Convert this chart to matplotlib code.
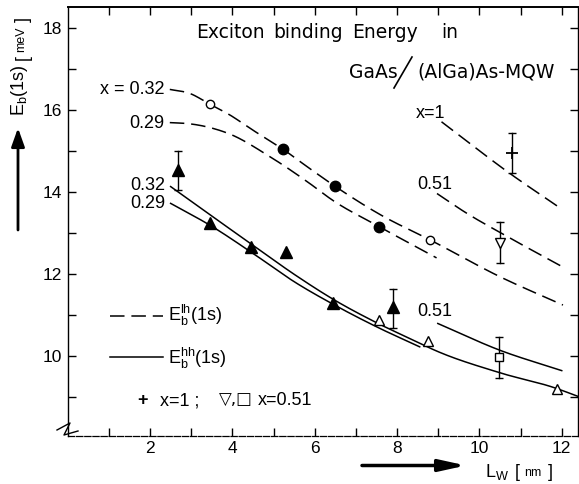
import numpy as np
import matplotlib
matplotlib.use('Agg')
import matplotlib.pyplot as plt
from matplotlib.lines import Line2D

W, H = 579, 484

# ---------------- data ----------------
# light-hole binding energy curves (dashed)
lh032_x = [2.48, 2.97, 3.45, 3.95, 4.43, 5.23, 5.85, 6.49, 7.6, 8.8, 10.5, 12.03]
lh032_y = [16.51, 16.41, 16.15, 15.88, 15.56, 15.05, 14.6, 14.15, 13.45, 12.84, 11.94, 11.25]
lh029_x = [2.48, 2.97, 3.45, 3.94, 4.91, 5.9, 6.4, 7.57, 8.96]
lh029_y = [15.70, 15.67, 15.58, 15.42, 14.87, 14.2, 13.83, 13.16, 12.4]
lh051_x = [8.97, 9.69, 10.5, 12.04]
lh051_y = [13.97, 13.49, 13.02, 12.17]
lh1_x = [9.08, 10.74, 12.0]
lh1_y = [15.72, 14.46, 13.59]
# heavy-hole binding energy curves (solid)
hh032_x = [2.5, 3.5, 4.5, 5.5, 6.5, 7.5, 8.55, 8.8, 10.49, 11.86, 12.4]
hh032_y = [14.14, 13.42, 12.71, 12.0, 11.36, 10.82, 10.32, 10.2, 9.6, 9.22, 9.02]
hh029_x = [2.5, 3.5, 4.5, 5.5, 6.5, 7.5, 8.55]
hh029_y = [13.73, 13.17, 12.51, 11.82, 11.24, 10.72, 10.23]
hh051_x = [8.99, 10.49, 12.0]
hh051_y = [10.8, 10.15, 9.65]

# experimental points
fcirc_x = [5.23, 6.49, 7.57]
fcirc_y = [15.05, 14.15, 13.16]
ocirc_x = [3.45, 8.8]
ocirc_y = [16.15, 12.84]
ftri_x = [2.68, 3.46, 4.46, 5.3, 6.45, 7.91]
ftri_y = [14.54, 13.26, 12.67, 12.55, 11.31, 11.21]
otri_x = [7.56, 8.76, 11.88]
otri_y = [10.89, 10.37, 9.19]
dtri_x = [10.5]
dtri_y = [12.77]
sq_x = [10.48]
sq_y = [9.99]
plus_x = [10.78]
plus_y = [14.95]

# error bars: x, lower, upper
err_x = [2.68, 7.91, 10.5, 10.48, 10.78]
err_lo = [14.06, 10.70, 12.28, 9.46, 14.46]
err_hi = [15.01, 11.63, 13.28, 10.48, 15.45]

xticks = [2, 4, 6, 8, 10, 12]
yticks = [10, 12, 14, 16, 18]


def smooth(x, y, n=300):
    x = np.asarray(x, float)
    y = np.asarray(y, float)
    h = np.diff(x)
    d = np.diff(y) / h
    m = np.zeros_like(y)
    m[0] = d[0]
    m[-1] = d[-1]
    if len(x) > 2:
        m[1:-1] = (d[:-1] * h[1:] + d[1:] * h[:-1]) / (h[:-1] + h[1:])
    xs = np.linspace(x[0], x[-1], n)
    idx = np.clip(np.searchsorted(x, xs) - 1, 0, len(h) - 1)
    t = (xs - x[idx]) / h[idx]
    h00 = 2 * t**3 - 3 * t**2 + 1
    h10 = t**3 - 2 * t**2 + t
    h01 = -2 * t**3 + 3 * t**2
    h11 = t**3 - t**2
    ys = h00 * y[idx] + h10 * h[idx] * m[idx] + h01 * y[idx + 1] + h11 * h[idx] * m[idx + 1]
    return xs, ys


plt.rcParams['font.family'] = ['Liberation Sans', 'DejaVu Sans']
plt.rcParams['mathtext.fontset'] = 'custom'
plt.rcParams['mathtext.rm'] = 'Liberation Sans'

fig = plt.figure(figsize=(W / 100, H / 100), dpi=100)
ax = fig.add_axes([67.7 / W, 1 - 435.8 / H, 510.5 / W, (435.8 - 6.6) / H])
ax.set_xlim(0, 12.4)
ax.set_ylim(8.06, 18.53)

dash = dict(color='k', lw=1.1, dashes=(9.5, 4.5))
solid = dict(color='k', lw=1.1)
for xx, yy in [(lh032_x, lh032_y), (lh029_x, lh029_y), (lh051_x, lh051_y), (lh1_x, lh1_y)]:
    ax.plot(*smooth(xx, yy), **dash)
for xx, yy in [(hh032_x, hh032_y), (hh029_x, hh029_y), (hh051_x, hh051_y)]:
    ax.plot(*smooth(xx, yy), **solid)

# error bars
for xe, lo, hi in zip(err_x, err_lo, err_hi):
    ax.plot([xe, xe], [lo, hi], color='k', lw=1.0, zorder=3)
    ax.plot([xe], [hi], marker='_', ms=6, mew=1.0, color='k', zorder=3)
    ax.plot([xe], [lo], marker='_', ms=6, mew=1.0, color='k', zorder=3)

ax.plot(fcirc_x, fcirc_y, 'o', ms=7.5, color='k', zorder=4)
ax.plot(ocirc_x, ocirc_y, 'o', ms=6, mfc='white', mec='k', mew=1.0, zorder=4)
ax.plot(ftri_x, ftri_y, '^', ms=8.5, color='k', zorder=4)
ax.plot(otri_x, otri_y, '^', ms=7.5, mfc='white', mec='k', mew=1.0, zorder=4)
ax.plot(dtri_x, dtri_y, 'v', ms=7.5, mfc='white', mec='k', mew=1.0, zorder=4)
ax.plot(sq_x, sq_y, 's', ms=6, mfc='white', mec='k', mew=1.0, zorder=4)
ax.plot(plus_x, plus_y, '+', ms=8, mew=1.3, color='k', zorder=4)

# axes styling
ax.set_xticks(xticks)
ax.set_xticks([1, 3, 5, 7, 9, 11], minor=True)
ax.set_yticks(yticks)
ax.set_yticks([9, 11, 13, 15, 17], minor=True)
ax.tick_params(which='both', direction='in', top=True, right=True, length=5.5, width=1.0,
               labelsize=12.5, pad=4)
for s in ['left', 'right', 'top']:
    ax.spines[s].set_linewidth(1.0)
ax.spines['top'].set_linewidth(1.4)
ax.spines['bottom'].set_linestyle((0, (5, 1.5)))
ax.spines['bottom'].set_linewidth(0.9)


def ftext(px, py, s, **kw):
    return fig.text(px / W, 1 - py / H, s, **kw)


def fline(xs, ys, **kw):
    fig.add_artist(Line2D([x / W for x in xs], [1 - y / H for y in ys],
                          transform=fig.transFigure, **kw))


# axis break symbol
fline([57, 70, 64, 78], [430, 423, 435, 431], color='k', lw=1.0)

# title
tfont = dict(family='DejaVu Sans', fontsize=13.5, va='baseline', ha='center')
ftext(230, 38, 'Exciton', **tfont)
ftext(308.5, 38, 'binding', **tfont)
ftext(385.5, 38, 'Energy', **tfont)
ftext(450, 38, 'in', **tfont)
ftext(373, 78, 'GaAs', **tfont)
fline([394, 412], [88, 57], color='k', lw=1.2)
ftext(486, 78, '(AlGa)As-MQW', **tfont)

# curve labels
lab = dict(fontsize=13, ha='right', va='center')
ftext(164, 89, 'x = 0.32', **lab)
ftext(164, 123, '0.29', **lab)
ftext(165, 185, '0.32', **lab)
ftext(165, 204, '0.29', **lab)
lab2 = dict(fontsize=13, ha='left', va='center')
ftext(416, 114, 'x=1', **lab2)
ftext(417, 184, '0.51', **lab2)
ftext(417, 312, '0.51', **lab2)

# legend
fline([110, 163], [316, 316], color='k', lw=1.1, dashes=(9.5, 4.5))
fline([110, 163], [357, 357], color='k', lw=1.1)
ftext(168, 321, r'$\mathregular{E_b^{lh}(1s)}$', fontsize=13, va='baseline')
ftext(168, 364, r'$\mathregular{E_b^{hh}(1s)}$', fontsize=13, va='baseline')
ftext(142, 400, '+', fontsize=13, ha='center', va='center', fontweight='bold')
ftext(160, 405, 'x=1 ;', fontsize=13, va='baseline')
ftext(219, 405, '\u25bd,\u25a1', fontsize=12, va='baseline', family=['DejaVu Sans'])
ftext(258, 405, 'x=0.51', fontsize=13, va='baseline')

# y label
ftext(20, 90, r'$\mathregular{E_b(1s)}$', fontsize=13, rotation=90, ha='center', va='center')
ftext(23, 58, '[', fontsize=13, rotation=90, ha='center', va='center')
ftext(21, 39, 'meV', fontsize=9, rotation=90, ha='center', va='center')
ftext(23, 20, ']', fontsize=13, rotation=90, ha='center', va='center')

# x label
ftext(485, 477, r'$\mathregular{L_W}$', fontsize=13, va='baseline')
ftext(515, 477, '[', fontsize=13, va='baseline')
ftext(533, 476, 'nm', fontsize=9, va='baseline', ha='center')
ftext(548, 477, ']', fontsize=13, va='baseline')

# arrows
ax.annotate('', xy=(18 / W, 1 - 128 / H), xytext=(18 / W, 1 - 230 / H),
            xycoords='figure fraction', textcoords='figure fraction',
            arrowprops=dict(arrowstyle='-|>,head_length=0.7,head_width=0.25',
                            lw=2.0, color='k', mutation_scale=16, shrinkA=0, shrinkB=0))
ax.annotate('', xy=(466 / W, 1 - 465.5 / H), xytext=(362 / W, 1 - 465.5 / H),
            xycoords='figure fraction', textcoords='figure fraction',
            arrowprops=dict(arrowstyle='-|>,head_length=1.0,head_width=0.22',
                            lw=2.5, color='k', mutation_scale=16, shrinkA=0, shrinkB=0))

fig.savefig('out.png', dpi=100)
